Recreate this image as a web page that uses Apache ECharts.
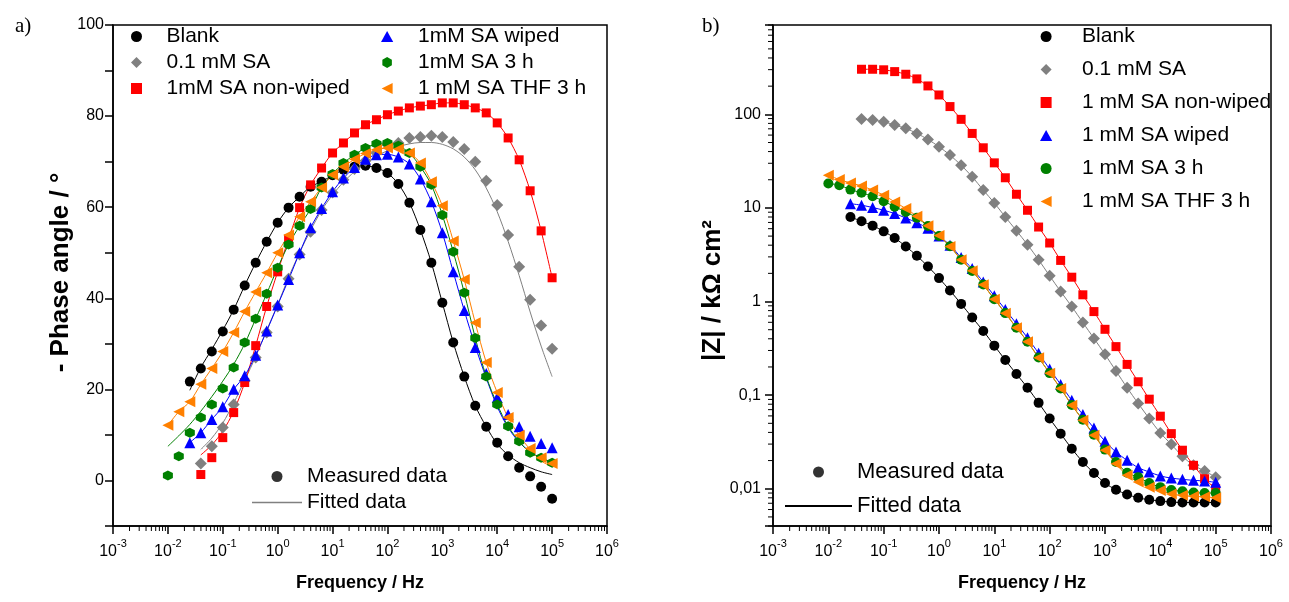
<!DOCTYPE html>
<html><head><meta charset="utf-8">
<script src="https://cdn.jsdelivr.net/npm/echarts@6/dist/echarts.min.js"></script>
<style>html,body{margin:0;padding:0;background:#fff}#c{width:1289px;height:602px}</style>
</head><body><div id="c"></div>
<script>
// Frequencies (Hz), 5 points per decade, ascending
const freq = [0.01, 0.0158, 0.0251, 0.0398, 0.0631, 0.1, 0.158, 0.251, 0.398, 0.631,
  1, 1.58, 2.51, 3.98, 6.31, 10, 15.8, 25.1, 39.8, 63.1,
  100, 158, 251, 398, 631, 1000, 1580, 2510, 3980, 6310,
  10000, 15800, 25100, 39800, 63100, 100000];

const namesA = ['Blank', '0.1 mM SA', '1mM SA non-wiped', '1mM SA wiped', '1mM SA 3 h', '1 mM SA THF 3 h'];
const namesB = ['Blank', '0.1 mM SA', '1 mM SA non-wiped', '1 mM SA wiped', '1 mM SA 3 h', '1 mM SA THF 3 h'];

// a) - Phase angle (deg), measured
const phBlank  = [null,null,21.7,24.6,28.3,32.7,37.5,42.8,47.8,52.4,56.6,59.9,62.3,64.5,65.6,67.0,68.2,68.9,69.1,68.6,67.5,65.1,61.0,55.0,47.8,39.0,30.3,22.8,16.4,11.8,8.3,5.3,2.8,0.9,-1.4,-4.0];
const phGray   = [null,null,null,3.7,7.5,11.6,16.7,21.9,27.0,32.5,38.2,44.3,49.6,54.6,59.4,63.2,66.0,68.4,70.2,71.9,73.7,74.1,75.2,75.4,75.7,75.4,74.3,72.8,70.0,65.8,60.5,53.9,46.9,39.7,34.0,28.9];
const phRed    = [null,null,null,1.3,5.0,9.4,14.9,21.5,29.6,38.2,45.8,53.0,59.9,64.9,68.6,71.9,74.1,76.3,78.1,79.2,80.3,81.1,81.8,82.2,82.5,82.9,82.9,82.5,81.8,80.7,78.5,75.2,70.4,63.6,54.8,44.5];
const phBlue   = [null,null,8.3,10.5,13.4,16.2,20.0,23.0,27.5,32.8,38.5,44.1,50.0,55.5,59.7,63.4,66.4,68.7,70.5,71.5,71.6,71.0,69.5,66.2,61.2,54.4,45.8,37.3,29.2,23.5,18.2,14.5,11.8,9.7,8.1,7.2];
const phGreen  = [1.1,5.3,10.5,13.8,16.7,20.2,24.8,30.3,35.5,41.0,46.7,51.8,55.9,59.6,64.3,67.3,69.7,71.5,73.0,73.9,74.1,73.5,71.9,68.9,64.9,58.3,50.2,41.2,31.3,22.8,16.7,11.9,8.6,6.1,5.0,3.9];
const phOrange = [12.1,15.1,17.3,21.1,24.6,28.3,32.5,37.1,41.4,45.6,50.0,53.9,57.9,61.2,64.3,67.1,68.9,70.5,71.8,72.6,73.0,72.8,71.9,69.7,65.6,60.3,52.6,44.1,34.6,25.9,19.3,13.8,9.9,7.0,5.0,3.7];

// a) - Phase angle (deg), fitted
const fitBlank  = [null,null,19.8,24.8,28.8,33.0,37.5,42.8,47.8,52.4,56.6,59.9,62.3,64.5,65.6,67.0,68.2,68.9,69.1,68.6,67.5,65.1,61.0,55.0,47.8,39.0,30.3,22.8,16.4,11.8,8.0,5.6,3.9,2.8,1.9,1.3];
const fitGray   = [null,null,null,6.8,9.3,12.6,17.0,22.0,27.2,33.0,38.6,44.6,50.0,54.9,59.3,62.7,65.5,67.8,69.6,71.2,72.4,73.3,73.9,74.2,74.2,73.8,72.8,71.0,68.2,64.2,59.0,52.5,45.0,37.0,29.5,22.8];
const fitRed    = [null,null,null,5.6,7.8,10.8,15.2,21.5,29.6,38.2,45.8,53.0,59.9,64.9,68.6,71.9,74.1,76.3,78.1,79.2,80.3,81.1,81.8,82.2,82.5,82.9,82.9,82.5,81.8,80.7,78.5,75.2,70.4,63.6,54.8,44.5];
const fitBlue   = [null,null,8.3,10.5,13.4,16.2,20.0,23.0,27.5,32.8,38.5,44.1,50.0,55.5,59.7,63.4,66.4,68.7,70.5,71.5,71.6,71.0,69.5,66.2,61.2,54.4,45.8,37.3,29.5,22.5,16.2,11.6,8.4,6.3,4.9,3.8];
const fitGreen  = [7.5,9.8,12.3,15.2,18.4,21.8,25.5,30.0,35.5,41.0,46.7,51.8,55.9,59.6,64.3,67.3,69.7,71.5,73.0,73.9,74.1,73.5,71.9,68.9,64.9,58.3,50.2,41.2,31.3,22.8,16.7,11.9,8.6,6.1,5.0,3.9];
const fitOrange = [12.1,15.1,17.3,21.1,24.6,28.3,32.5,37.1,41.4,45.6,50.0,53.9,57.9,61.2,64.3,67.1,68.9,70.5,71.8,72.6,73.0,72.8,71.9,69.7,65.6,60.3,52.6,44.1,34.6,25.9,19.3,13.8,9.9,6.8,4.3,3.0];

// b) |Z| (kOhm cm2)
const zBlank  = [null,null,8.01,7.20,6.47,5.62,4.77,3.88,3.08,2.37,1.78,1.31,0.944,0.674,0.485,0.338,0.237,0.168,0.120,0.0827,0.0562,0.0388,0.0268,0.0193,0.0147,0.0115,0.00976,0.00869,0.00801,0.00762,0.00738,0.0072,0.00713,0.00713,0.00713,0.00713];
const zGray   = [null,null,null,89.1,86.9,83.4,76.8,70.8,62.5,53.9,45.1,36.7,28.6,21.5,15.5,11.3,8.0,5.71,4.05,2.79,1.88,1.28,0.883,0.596,0.404,0.273,0.181,0.120,0.0815,0.0562,0.0395,0.0298,0.0222,0.0178,0.0155,0.0133];
const zRed    = [null,null,null,303,303,299,286,268,239,201,161,121,88.4,62.5,43.9,30.3,21.0,14.0,9.44,6.25,4.22,2.75,1.82,1.18,0.781,0.505,0.330,0.213,0.139,0.0906,0.0596,0.0388,0.0258,0.0178,0.0128,0.0100];
const zBlue   = [null,null,11.1,10.7,10.1,9.45,8.70,7.81,6.95,6.05,5.0,4.0,2.95,2.25,1.62,1.15,0.82,0.58,0.41,0.28,0.19,0.13,0.088,0.062,0.0445,0.0322,0.0247,0.0201,0.0168,0.0151,0.0137,0.0130,0.0126,0.0123,0.0121,0.0117];
const zGreen  = [18.2,17.5,15.7,14.5,13.3,11.8,10.3,9.06,7.87,6.40,5.02,3.90,2.80,2.12,1.52,1.06,0.752,0.525,0.372,0.252,0.172,0.118,0.0785,0.0545,0.0378,0.0262,0.0193,0.0148,0.0133,0.0115,0.0104,0.0097,0.0094,0.0091,0.0090,0.0090];
const zOrange = [22.4,20.1,18.5,17.2,15.5,13.7,11.6,9.84,8.15,6.47,5.06,3.88,2.79,2.13,1.51,1.06,0.75,0.526,0.373,0.251,0.171,0.118,0.0782,0.054,0.0373,0.0258,0.0185,0.0139,0.0118,0.0104,0.0096,0.0088,0.0085,0.0083,0.0082,0.0080];

const yTickLabelsB = {'0.01': '0,01', '0.1': '0,1', '1': '1', '10': '10', '100': '100'};

const colors = ['#000000', '#808080', '#ff0000', '#0000ff', '#008000', '#ff8000'];
const HEX = 'path://M5,0L9.33,2.5L9.33,7.5L5,10L0.67,7.5L0.67,2.5Z';
const LTRI = 'path://M0,5L10,0L10,10Z';
const DIAM = 'path://M5,0L10,5L5,10L0,5Z';
const TRI = 'path://M5,0L10,9L0,9Z';
const SQ = 'path://M0,0L10,0L10,10L0,10Z';
const symA = ['circle', DIAM, SQ, TRI, HEX, LTRI];
const symB = ['circle', DIAM, SQ, TRI, 'circle', LTRI];
const sizeA = [10, 12, 9, 11, 10, 11];
const sizeB = [10, 12, 9, 11, 10, 11];
const LINEICON = 'path://M0,0L60,0L60,2L0,2Z';

const phMeas = [phBlank, phGray, phRed, phBlue, phGreen, phOrange];
const phFit = [fitBlank, fitGray, fitRed, fitBlue, fitGreen, fitOrange];
const zMeas = [zBlank, zGray, zRed, zBlue, zGreen, zOrange];

function pairs(vals) {
  const out = [];
  vals.forEach((v, i) => { if (v != null) out.push([freq[i], v]); });
  return out;
}

const FONT = 'Liberation Sans';
const isDecade = v => Math.abs(Math.log10(v) - Math.round(Math.log10(v))) < 1e-6;

const xLabel = {
  fontFamily: FONT, color: '#000', margin: 12,
  formatter: v => {
    if (!isDecade(v)) return '';
    const e = Math.round(Math.log10(v));
    return '{b|10}{s|' + e + '}';
  },
  rich: {
    b: { fontFamily: FONT, fontSize: 16, lineHeight: 22, verticalAlign: 'bottom', color: '#000' },
    s: { fontFamily: FONT, fontSize: 11, lineHeight: 12, verticalAlign: 'top', color: '#000' }
  }
};
const axisLine = { show: true, onZero: false, lineStyle: { color: '#000', width: 1.5 } };
const axisTick = { show: true, inside: false, length: 8, lineStyle: { color: '#000', width: 1.5 } };
const xNameStyle = { fontFamily: FONT, fontSize: 18, fontWeight: 'bold', color: '#000' };
const yNameStyle = { fontFamily: FONT, fontSize: 26, fontWeight: 'bold', color: '#000' };

// minor tick positions (log axes)
const minorX = [];
for (let e = -3; e < 6; e++) for (let m = 2; m < 10; m++) minorX.push(m * Math.pow(10, e));
const minorY = [];
for (let e = -3; e < 3; e++) for (let m = 2; m < 10; m++) { const v = m * Math.pow(10, e); if (v >= 0.004 && v <= 900) minorY.push(v); }

const series = [];
phFit.forEach((arr, i) => series.push({
  type: 'line', name: 'fitA' + i, xAxisIndex: 0, yAxisIndex: 0, data: pairs(arr),
  showSymbol: false, symbol: 'none', smooth: 0.3, silent: true, z: 2,
  lineStyle: { color: colors[i], width: 1 }, itemStyle: { color: colors[i] }
}));
phMeas.forEach((arr, i) => series.push({
  type: 'scatter', name: namesA[i], xAxisIndex: 0, yAxisIndex: 0, data: pairs(arr),
  symbol: symA[i], symbolSize: sizeA[i], z: 3, silent: true,
  itemStyle: { color: colors[i], opacity: 1 }
}));
zMeas.forEach((arr, i) => series.push({
  type: 'line', name: 'fitB' + i, xAxisIndex: 1, yAxisIndex: 1, data: pairs(arr),
  showSymbol: false, symbol: 'none', smooth: 0.3, silent: true, z: 2,
  lineStyle: { color: colors[i], width: 1 }, itemStyle: { color: colors[i] }
}));
zMeas.forEach((arr, i) => series.push({
  type: 'scatter', name: namesB[i], xAxisIndex: 1, yAxisIndex: 1, data: pairs(arr),
  symbol: symB[i], symbolSize: sizeB[i], z: 3, silent: true,
  itemStyle: { color: colors[i], opacity: 1 }
}));
series.push({ type: 'scatter', name: 'Measured data', xAxisIndex: 0, yAxisIndex: 0, data: [], symbol: 'circle', symbolSize: 11, itemStyle: { color: '#000' } });
series.push({ type: 'line', name: 'Fitted data', xAxisIndex: 0, yAxisIndex: 0, data: [], symbol: 'none', lineStyle: { color: '#808080', width: 1.5 }, itemStyle: { color: '#808080' } });

[0, 1].forEach(g => series.push({
  type: 'custom', xAxisIndex: g, yAxisIndex: g, silent: true, clip: false, z: 5,
  data: minorX.map(v => [v, g === 0 ? 50 : 1]),
  renderItem: (params, api) => {
    const cs = params.coordSys;
    const x = api.coord([api.value(0), api.value(1)])[0];
    const y = cs.y + cs.height;
    return { type: 'line', shape: { x1: x, y1: y, x2: x, y2: y + 5 }, style: { stroke: '#000', lineWidth: 1 } };
  }
}));
series.push({
  type: 'custom', xAxisIndex: 1, yAxisIndex: 1, silent: true, clip: false, z: 5,
  data: minorY.map(v => [1, v]),
  renderItem: (params, api) => {
    const cs = params.coordSys;
    const y = api.coord([api.value(0), api.value(1)])[1];
    const x = cs.x;
    return { type: 'line', shape: { x1: x - 5, y1: y, x2: x, y2: y }, style: { stroke: '#000', lineWidth: 1 } };
  }
});

const legendText = { fontFamily: FONT, fontSize: 21, lineHeight: 21, color: '#000' };
const legendBase = { orient: 'vertical', selectedMode: false, symbolKeepAspect: true, itemHeight: 11 };

function legendItems(names, symbols) {
  return names.map((n, i) => ({ name: n, icon: symbols[i] }));
}

const option = {
  animation: false,
  backgroundColor: '#fff',
  title: [
    { text: 'a)', left: 10, top: 11, textStyle: { fontFamily: 'Liberation Serif', fontSize: 21, fontWeight: 'normal', color: '#000' } },
    { text: 'b)', left: 697, top: 11, textStyle: { fontFamily: 'Liberation Serif', fontSize: 21, fontWeight: 'normal', color: '#000' } }
  ],
  grid: [
    { left: 113, top: 25, width: 494, height: 501, show: true, borderColor: '#000', borderWidth: 1.5, backgroundColor: 'transparent' },
    { left: 773, top: 25, width: 498, height: 501, show: true, borderColor: '#000', borderWidth: 1.5, backgroundColor: 'transparent' }
  ],
  xAxis: [
    { gridIndex: 0, type: 'log', logBase: 10, min: 0.001, max: 1e6, splitNumber: 9,
      axisLine, axisTick, axisLabel: xLabel, splitLine: { show: false },
      name: 'Frequency / Hz', nameLocation: 'middle', nameGap: 48, nameTextStyle: xNameStyle },
    { gridIndex: 1, type: 'log', logBase: 10, min: 0.001, max: 1e6, splitNumber: 9,
      axisLine, axisTick, axisLabel: xLabel, splitLine: { show: false },
      name: 'Frequency / Hz', nameLocation: 'middle', nameGap: 48, nameTextStyle: xNameStyle }
  ],
  yAxis: [
    { gridIndex: 0, type: 'value', min: -10, max: 100, interval: 10,
      axisLine, axisTick, splitLine: { show: false },
      axisLabel: { fontFamily: FONT, fontSize: 16, color: '#000', margin: 9,
        formatter: v => (v >= 0 && v % 20 === 0) ? String(v) : '' },
      name: '- Phase angle / °', nameLocation: 'middle', nameGap: 29, nameTextStyle: Object.assign({}, yNameStyle, { padding: [0, 0, 0, 6] }) },
    { gridIndex: 1, type: 'log', logBase: 10, min: 0.004, max: 900,
      axisLine, axisTick, splitLine: { show: false },
      axisLabel: { fontFamily: FONT, fontSize: 16, color: '#000', margin: 12,
        formatter: v => {
          if (!isDecade(v)) return '';
          const e = Math.round(Math.log10(v));
          return yTickLabelsB[String(Math.pow(10, e))] || '';
        } },
      name: '|Z| / kΩ cm²', nameLocation: 'middle', nameGap: 32, nameTextStyle: Object.assign({}, yNameStyle, { padding: [0, 30, 0, 0] }) }
  ],
  legend: [
    Object.assign({}, legendBase, { data: legendItems(namesA.slice(0, 3), symA.slice(0, 3)), left: 126, top: 21, itemWidth: 50, itemGap: 5, textStyle: legendText }),
    Object.assign({}, legendBase, { data: legendItems(namesA.slice(3, 6), symA.slice(3, 6)), left: 376, top: 21, itemWidth: 52, itemGap: 5, textStyle: legendText }),
    Object.assign({}, legendBase, { data: [{ name: 'Measured data', icon: 'circle' }, { name: 'Fitted data', icon: LINEICON, itemStyle: { color: '#808080' } }],
      left: 247, top: 461, itemWidth: 50, itemGap: 5, textStyle: legendText }),
    Object.assign({}, legendBase, { data: legendItems(namesB, symB), left: 1035, top: 21, itemWidth: 62, itemGap: 12, textStyle: legendText }),
    Object.assign({}, legendBase, { data: [{ name: 'Measured data', icon: 'circle' }, { name: 'Fitted data', icon: LINEICON, itemStyle: { color: '#000' } }],
      left: 780, top: 456, itemWidth: 67, itemGap: 12, textStyle: { fontFamily: FONT, fontSize: 22, lineHeight: 22, color: '#000' } })
  ],
  series
};

const chart = echarts.init(document.getElementById('c'), null, { renderer: 'canvas' });
chart.setOption(option);
</script>
</body></html>
